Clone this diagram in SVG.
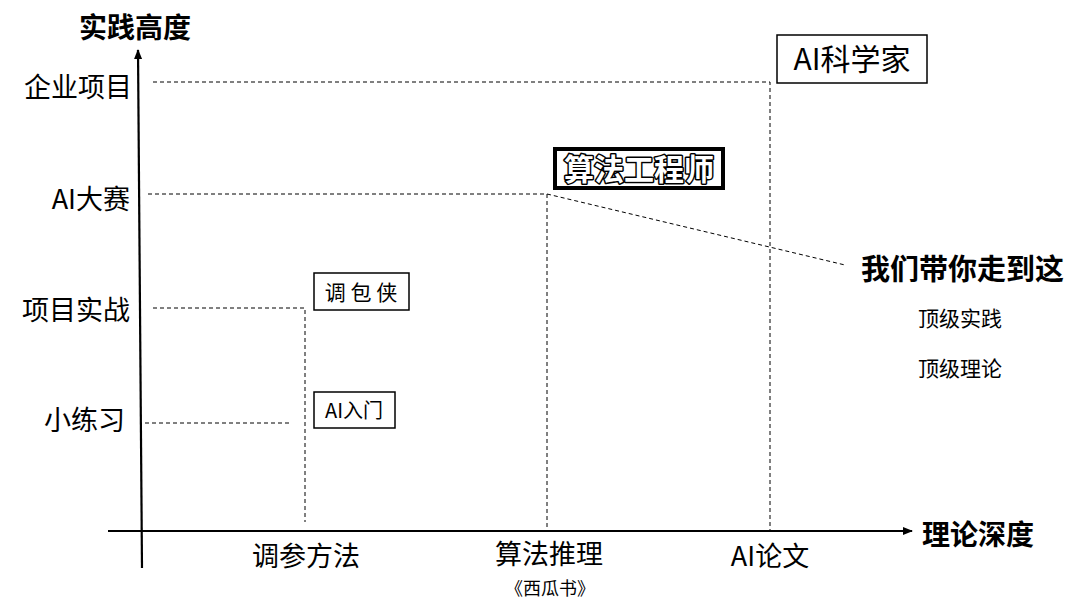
<svg xmlns="http://www.w3.org/2000/svg" width="1080" height="610" viewBox="0 0 1080 610">
<defs>
<marker id="ah" markerWidth="10" markerHeight="8" refX="9" refY="4" orient="auto" markerUnits="userSpaceOnUse">
<path d="M0,0 L10,4 L0,8 Z" fill="#000"/>
</marker>
<style>
.t{font-family:"Noto Sans CJK SC","Liberation Sans",sans-serif;fill:#000;}
.lab{font-size:27px;text-anchor:end;}
.ax{font-size:28px;font-weight:bold;}
.xl{font-size:27px;text-anchor:middle;}
.dash{stroke:#000;stroke-width:1;fill:none;stroke-dasharray:4 3;}
.box{fill:#fff;stroke:#000;stroke-width:1.5;}
</style>
</defs>
<rect width="1080" height="610" fill="#fff"/>
<g id="axes">
<line x1="142" y1="568" x2="138" y2="50" stroke="#000" stroke-width="2.2" marker-end="url(#ah)"/>
<line x1="108" y1="531" x2="912" y2="531" stroke="#000" stroke-width="2.2" marker-end="url(#ah)"/>
<text class="t ax" x="79" y="38">实践高度</text>
<text class="t ax" x="922" y="545">理论深度</text>
</g>
<g id="y-labels">
<text class="t lab" x="132" y="97">企业项目</text>
<text class="t lab" x="130" y="209">AI大赛</text>
<text class="t lab" x="130" y="320">项目实战</text>
<text class="t lab" x="125" y="430">小练习</text>
</g>
<g id="x-labels">
<text class="t xl" x="306" y="566">调参方法</text>
<text class="t xl" x="549" y="564">算法推理</text>
<text class="t" x="550" y="595" font-size="18" text-anchor="middle">《西瓜书》</text>
<text class="t xl" x="770" y="566">AI论文</text>
</g>
<g id="connectors">
<polyline class="dash" points="153,82 770,82 770,530"/>
<polyline class="dash" points="148,194 547,194 547,530"/>
<line class="dash" x1="547" y1="194" x2="845" y2="265"/>
<polyline class="dash" points="153,308 305,308 305,522"/>
<line class="dash" x1="145" y1="423" x2="292" y2="423"/>
</g>
<g id="node-tiaobaoxia">
<rect class="box" x="314" y="273" width="95" height="37"/>
<text class="t" x="361" y="300" font-size="21" text-anchor="middle">调 包 侠</text>
</g>
<g id="node-ai-rumen">
<rect class="box" x="314" y="392" width="81" height="36"/>
<text class="t" x="354" y="418" font-size="20" text-anchor="middle">AI入门</text>
</g>
<g id="node-suanfa">
<rect x="555" y="149" width="168" height="39" fill="#fff" stroke="#000" stroke-width="4"/>
<text class="t" x="639" y="180" font-size="30" font-weight="bold" text-anchor="middle" style="fill:#fff;stroke:#000;stroke-width:3;paint-order:stroke;stroke-linejoin:round">算法工程师</text>
</g>
<g id="node-ai-scientist">
<rect class="box" x="777" y="35" width="150" height="48"/>
<text class="t" x="852" y="70" font-size="30" text-anchor="middle">AI科学家</text>
</g>
<g id="note">
<text class="t" x="861" y="280" font-size="29" font-weight="bold">我们带你走到这</text>
<text class="t" x="918" y="326" font-size="21">顶级实践</text>
<text class="t" x="918" y="376" font-size="21">顶级理论</text>
</g>
</svg>
